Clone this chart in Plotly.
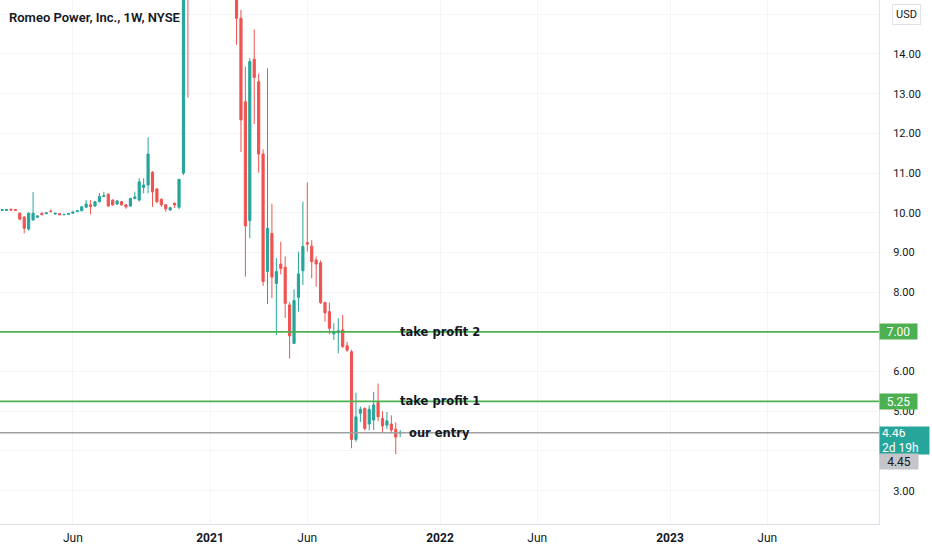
import pandas as pd
import plotly.graph_objects as go

# weekly candles, RMO (Romeo Power) - first bar 2020-02-10
first_week = "2020-02-10"

opens = [10.06, 10.06, 10.09, 10.08, 9.99, 9.89, 9.59, 9.82, 9.89, 9.99,
         9.98, 10.04, 9.97, 9.98, 9.95, 9.96, 9.99, 10.03, 10.05, 10.14,
         10.20, 10.17, 10.28, 10.41, 10.47, 10.32, 10.22, 10.28, 10.20, 10.17,
         10.36, 10.32, 10.64, 10.70, 11.02, 10.60, 10.34, 10.20, 10.07, 10.24,
         10.14, 11.00, 21.00, 18.00, 28.00, 30.00, 24.00, 18.00, 16.50, 19.00,
         17.50, 18.50, 20.00, 17.00, 14.90, 12.80, 9.80, 13.87, 13.30, 11.48,
         8.52, 9.48, 8.22, 8.71, 8.63, 7.68, 6.71, 7.87, 8.54, 9.25,
         9.16, 8.81, 8.74, 7.74, 7.51, 6.95, 6.98, 7.05, 6.65, 6.50,
         4.29, 4.95, 5.07, 4.68, 4.78, 5.22, 4.82, 4.65, 4.68, 4.55,
         4.45]
highs = [10.10, 10.10, 10.10, 10.09, 10.01, 9.92, 10.01, 10.52, 9.94, 10.00,
         10.01, 10.09, 10.00, 9.99, 9.97, 9.99, 10.03, 10.06, 10.17, 10.32,
         10.32, 10.30, 10.50, 10.53, 10.49, 10.34, 10.32, 10.30, 10.22, 10.38,
         10.53, 10.87, 10.87, 11.90, 11.05, 10.62, 10.36, 10.22, 10.15, 10.26,
         10.86, 24.00, 26.00, 30.00, 38.90, 32.00, 26.00, 19.50, 20.00, 21.00,
         19.00, 22.00, 21.00, 17.50, 15.11, 13.68, 13.90, 14.62, 13.51, 11.60,
         13.64, 10.23, 8.86, 9.27, 8.90, 7.75, 8.07, 9.02, 10.28, 10.76,
         9.31, 8.90, 8.80, 7.76, 7.74, 7.22, 7.34, 7.43, 6.75, 6.55,
         5.47, 5.12, 5.10, 5.15, 5.49, 5.70, 5.00, 4.98, 4.90, 4.72,
         4.53]
lows = [10.04, 10.05, 10.06, 10.05, 9.82, 9.48, 9.55, 9.80, 9.87, 9.94,
        9.96, 10.02, 9.95, 9.94, 9.94, 9.95, 9.98, 10.02, 10.04, 10.12,
        9.96, 10.15, 10.26, 10.40, 10.15, 10.18, 10.20, 10.18, 10.10, 10.15,
        10.34, 10.28, 10.49, 10.49, 10.15, 10.24, 10.15, 10.03, 10.05, 10.12,
        10.09, 10.95, 12.90, 17.00, 25.00, 22.00, 17.00, 15.80, 16.00, 17.00,
        16.00, 17.50, 16.50, 14.23, 11.53, 8.39, 9.36, 12.24, 11.01, 8.16,
        7.70, 7.85, 6.92, 8.45, 7.35, 6.33, 6.71, 7.51, 8.18, 9.02,
        8.35, 8.14, 7.70, 7.26, 6.94, 6.80, 6.46, 6.60, 6.50, 4.07,
        4.23, 4.73, 4.52, 4.52, 4.53, 4.75, 4.48, 4.55, 4.44, 3.92,
        4.35]
closes = [10.08, 10.08, 10.07, 10.06, 9.84, 9.61, 9.99, 9.99, 9.92, 9.95,
          10.00, 10.03, 9.99, 9.95, 9.96, 9.98, 10.02, 10.05, 10.15, 10.22,
          10.16, 10.28, 10.41, 10.43, 10.17, 10.20, 10.30, 10.20, 10.15, 10.36,
          10.40, 10.78, 10.70, 11.48, 10.53, 10.28, 10.20, 10.10, 10.13, 10.20,
          10.84, 20.50, 18.00, 28.00, 30.00, 24.00, 18.00, 16.50, 19.00, 17.50,
          18.50, 20.00, 17.00, 14.90, 12.34, 9.67, 13.81, 13.41, 11.48, 8.27,
          9.61, 8.38, 8.52, 8.60, 7.72, 6.90, 7.79, 8.46, 9.15, 9.21,
          8.77, 8.71, 7.74, 7.48, 7.09, 7.00, 7.03, 6.63, 6.54, 4.29,
          4.86, 5.05, 4.57, 5.05, 5.16, 4.86, 4.63, 4.76, 4.53, 4.35,
          4.46]

# drawn levels
level_names = ["take profit 2", "take profit 1", "our entry"]
level_values = [7.00, 5.25, 4.46]
level_colors = ["#4caf50", "#4caf50", "#a0a0a0"]

# time axis labels
tick_dates = ["2020-06-01", "2021-01-04", "2021-06-07", "2022-01-03",
              "2022-06-06", "2023-01-02", "2023-06-05"]
tick_labels = ["Jun", "<b>2021</b>", "Jun", "<b>2022</b>", "Jun", "<b>2023</b>", "Jun"]

price_ticks = [3, 4, 5, 6, 7, 8, 9, 10, 11, 12, 13, 14, 15]
price_labels = ["3.00", "", "5.00", "6.00", "7.00", "8.00", "9.00", "10.00",
                "11.00", "12.00", "13.00", "14.00", "15.00"]

dates = pd.date_range(first_week, periods=len(opens), freq="W-MON")

fig = go.Figure(go.Candlestick(
    x=dates, open=opens, high=highs, low=lows, close=closes,
    increasing=dict(line=dict(color="#26a69a", width=1), fillcolor="#26a69a"),
    decreasing=dict(line=dict(color="#ef5350", width=1), fillcolor="#ef5350"),
    whiskerwidth=0, showlegend=False, hoverinfo="skip",
))

# horizontal levels + their text
for name, val, col in zip(level_names, level_values, level_colors):
    fig.add_shape(type="line", xref="paper", x0=0, x1=1, y0=val, y1=val,
                  line=dict(color=col, width=1.6), layer="above")
    fig.add_annotation(xref="paper", x=0.5, y=val, text=name, showarrow=False,
                       font=dict(family="DejaVu Sans", size=11.5, color="#131722", weight="bold"),
                       xanchor="center", yanchor="middle")

# price labels on the scale
for val, col in zip(level_values[:2], level_colors[:2]):
    fig.add_annotation(xref="paper", x=1, y=val, text=f"{val:.2f}", showarrow=False,
                       xanchor="left", yanchor="middle", bgcolor=col, borderpad=1,
                       width=35, height=13, align="center",
                       font=dict(family="Roboto", size=12, color="white"))

last = closes[-1]
fig.add_annotation(xref="paper", x=1, y=last, text=f"{last:.2f}<br>2d 19h", showarrow=False,
                   xanchor="left", yanchor="top", yshift=7, bgcolor="#26a69a", borderpad=2,
                   width=45, height=23, align="left",
                   font=dict(family="Roboto", size=12, color="white"))
fig.add_annotation(xref="paper", x=1, y=last, text="4.45", showarrow=False,
                   xanchor="left", yanchor="top", yshift=-20, bgcolor="#c3c5cb", borderpad=1,
                   width=36, height=13, align="center",
                   font=dict(family="Roboto", size=12, color="#131722"))
fig.add_annotation(xref="paper", yref="paper", x=1, y=1, xshift=13, yshift=-4,
                   text="USD", showarrow=False, xanchor="left", yanchor="top",
                   bgcolor="white", bordercolor="#e0e3eb", borderwidth=1, borderpad=3,
                   font=dict(family="Roboto", size=11, color="#131722"))

fig.add_annotation(xref="paper", yref="paper", x=0, y=1, xshift=7, yshift=-8,
                   text="Romeo Power, Inc., 1W, NYSE", showarrow=False,
                   xanchor="left", yanchor="top",
                   font=dict(family="Roboto", size=13, color="#131722", weight=600))

# x range from the pixel layout of the reference
ref = pd.Timestamp("2021-01-04")
px_day = 230 / 364
x0 = ref - pd.Timedelta(days=210 / px_day)
x1 = ref + pd.Timedelta(days=(879 - 210) / px_day)

fig.update_layout(
    width=932, height=550,
    margin=dict(l=0, r=53, t=0, b=26),
    paper_bgcolor="white", plot_bgcolor="white",
    xaxis=dict(type="date", range=[x0, x1], rangeslider=dict(visible=False),
               tickvals=tick_dates, ticktext=tick_labels,
               showgrid=True, gridcolor="#f4f5f8", zeroline=False,
               showline=True, linecolor="#e0e3eb", linewidth=1,
               tickfont=dict(family="Roboto", size=12, color="#131722"),
               ticklabelstandoff=3),
    yaxis=dict(side="right", range=[2.161, 15.36],
               tickvals=price_ticks, ticktext=price_labels,
               showgrid=True, gridcolor="#f4f5f8", zeroline=False,
               showline=True, linecolor="#e0e3eb", linewidth=1, mirror=False,
               tickfont=dict(family="Roboto", size=11, color="#131722"),
               ticklabelstandoff=11),
)

# page has a default body margin; drop it so the chart sits at the top-left corner
fig.write_html("out.html", config={"displayModeBar": False},
               post_script="document.body.style.margin='0';")
